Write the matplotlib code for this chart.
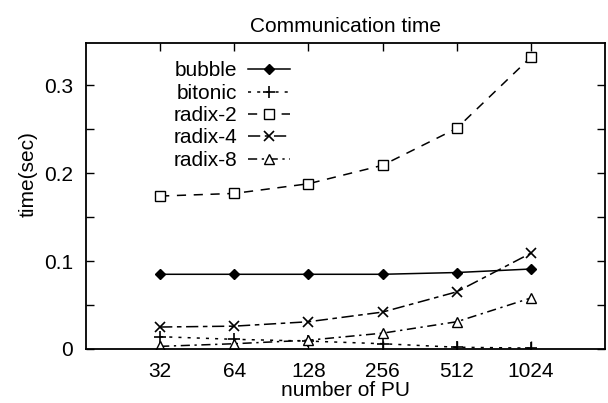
import matplotlib
matplotlib.use("Agg")
import matplotlib.pyplot as plt
from matplotlib.ticker import FixedLocator, NullLocator, FixedFormatter

plt.rcParams['font.family'] = ['Liberation Sans', 'DejaVu Sans']

# data
pu = [32, 64, 128, 256, 512, 1024]
bubble = [0.085, 0.085, 0.085, 0.085, 0.087, 0.091]
bitonic = [0.014, 0.011, 0.009, 0.006, 0.002, 0.001]
radix2 = [0.174, 0.177, 0.188, 0.209, 0.251, 0.332]
radix4 = [0.025, 0.026, 0.031, 0.042, 0.065, 0.109]
radix8 = [0.003, 0.006, 0.010, 0.018, 0.031, 0.058]

fig = plt.figure(figsize=(6.08, 4.03), dpi=100)
ax = fig.add_axes([0.1414, 0.134, 0.8536, 0.759])

ax.plot(pu, bubble, color='black', lw=1.1, ls='-', marker='D', ms=5,
        mfc='black', label='bubble')
ax.plot(pu, bitonic, color='black', lw=1.1, ls=(0, (2, 4)), marker='+', ms=9,
        mew=1.2, label='bitonic')
ax.plot(pu, radix2, color='black', lw=1.1, ls=(0, (6, 5)), marker='s', ms=7,
        mfc='white', label='radix-2')
ax.plot(pu, radix4, color='black', lw=1.1, ls=(0, (8, 3, 3, 3)), marker='x', ms=7,
        mew=1.2, label='radix-4')
ax.plot(pu, radix8, color='black', lw=1.1, ls=(0, (6, 3, 1.5, 3)), marker='^', ms=7,
        mfc='white', label='radix-8')

ax.set_xscale('log', base=2)
ax.set_xlim(16, 2048)
ax.set_ylim(0, 0.348)
ax.xaxis.set_major_locator(FixedLocator(pu))
ax.xaxis.set_major_formatter(FixedFormatter([str(p) for p in pu]))
ax.xaxis.set_minor_locator(NullLocator())
ax.yaxis.set_major_locator(FixedLocator([0, 0.1, 0.2, 0.3]))
ax.yaxis.set_major_formatter(FixedFormatter(['0', '0.1', '0.2', '0.3']))
ax.yaxis.set_minor_locator(FixedLocator([0.05, 0.15, 0.25]))
ax.tick_params(which='both', direction='in', top=True, right=True,
               labelsize=15, width=1.0)
ax.tick_params(which='major', length=6, pad=9.5)
ax.tick_params(which='minor', length=6)
for s in ax.spines.values():
    s.set_linewidth(1.3)

ax.set_title('Communication time', fontsize=15, pad=8)
ax.set_xlabel('number of PU', fontsize=15, labelpad=0)
ax.set_ylabel('time(sec)', fontsize=15)
ax.yaxis.set_label_coords(-0.0925, 0.572)

ax.legend(loc='upper left', bbox_to_anchor=(0.168, 0.94), frameon=False,
          markerfirst=False, numpoints=1, handlelength=2.0, fontsize=15,
          labelspacing=0.16, handletextpad=0.55, borderaxespad=0, borderpad=0)

fig.savefig('out.png', dpi=100)
